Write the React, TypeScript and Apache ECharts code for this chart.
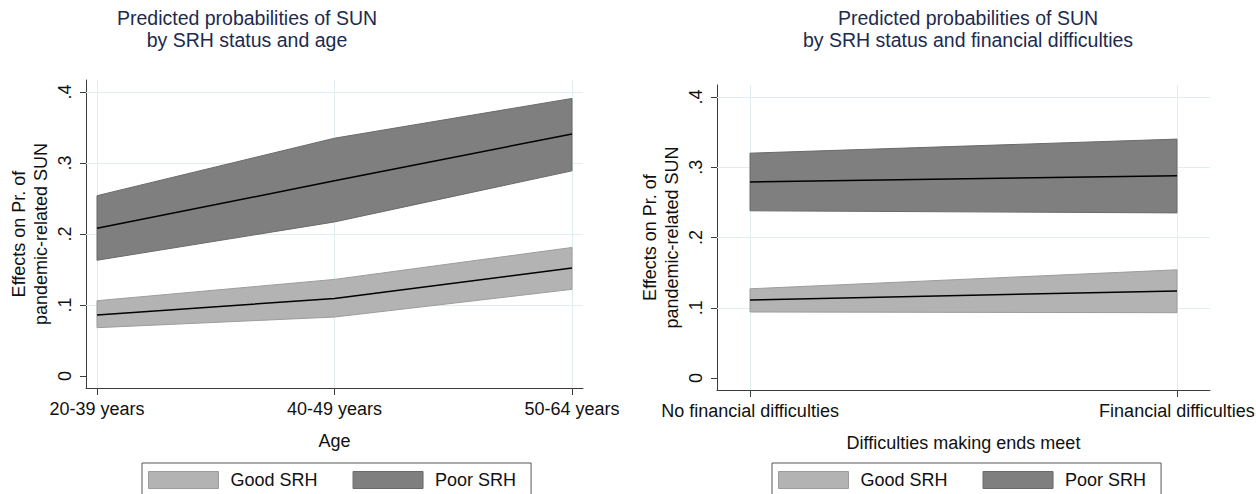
import React, { useEffect, useRef } from 'react';
import * as echarts from 'echarts';

// ---------- data ----------
const ageCategories = ['20-39 years', '40-49 years', '50-64 years'];
const goodAgeMean = [0.086, 0.109, 0.152];
const goodAgeLow = [0.068, 0.083, 0.122];
const goodAgeHigh = [0.106, 0.136, 0.181];
const poorAgeMean = [0.208, 0.275, 0.341];
const poorAgeLow = [0.163, 0.217, 0.289];
const poorAgeHigh = [0.254, 0.335, 0.391];

const finCategories = ['No financial difficulties', 'Financial difficulties'];
const goodFinMean = [0.111, 0.124];
const goodFinLow = [0.094, 0.093];
const goodFinHigh = [0.127, 0.154];
const poorFinMean = [0.279, 0.288];
const poorFinLow = [0.238, 0.235];
const poorFinHigh = [0.320, 0.340];

const yTickValues = [0, 0.1, 0.2, 0.3, 0.4];
const yTickLabels = ['0', '.1', '.2', '.3', '.4'];
const yGridValues = [0.1, 0.2, 0.3, 0.4];

const seriesNames = ['Good SRH', 'Poor SRH'];
const titles = [
  'Predicted probabilities of SUN\nby SRH status and age',
  'Predicted probabilities of SUN\nby SRH status and financial difficulties',
];
const xTitles = ['Age', 'Difficulties making ends meet'];
const yTitle = 'Effects on Pr. of\npandemic-related SUN';

// ---------- style ----------
const FONT = '"Liberation Sans", Arial, Helvetica, sans-serif';
const GOOD_FILL = '#b3b3b3';
const GOOD_EDGE = '#9c9c9c';
const POOR_FILL = '#7f7f7f';
const POOR_EDGE = '#6a6a6a';
const GRID_COLOR = '#e2edef';
const AXIS_COLOR = '#3c3c3c';
const TEXT_COLOR = '#111111';
const TITLE_COLOR = '#1d2b4f';

function bandSeries(name: string, idx: number, lows: number[], highs: number[], fill: string, edge: string) {
  return {
    type: 'custom',
    name,
    xAxisIndex: idx,
    yAxisIndex: idx,
    z: 2,
    silent: true,
    itemStyle: { color: fill },
    data: lows.map((v, i) => [i, v, highs[i]]),
    encode: { x: 0, y: [1, 2] },
    renderItem: (params: any, api: any) => {
      if (params.dataIndex !== 0) return null;
      const upper = highs.map((v, i) => api.coord([i, v]));
      const lower = lows.map((v, i) => api.coord([i, v])).reverse();
      return {
        type: 'polygon',
        shape: { points: upper.concat(lower) },
        style: { fill, stroke: edge, lineWidth: 1 },
      };
    },
  };
}

function meanSeries(name: string, idx: number, vals: number[], withGrid: number) {
  const s: any = {
    type: 'line',
    name,
    xAxisIndex: idx,
    yAxisIndex: idx,
    z: 3,
    silent: true,
    symbol: 'none',
    data: vals.map((v, i) => [i, v]),
    lineStyle: { color: '#000', width: 1.5 },
    itemStyle: { color: '#000' },
  };
  if (withGrid > 0) {
    s.markLine = {
      silent: true,
      z: 1,
      symbol: 'none',
      animation: false,
      label: { show: false },
      lineStyle: { color: GRID_COLOR, width: 1, type: 'solid' },
      data: [
        ...yGridValues.map((v) => ({ yAxis: v })),
        ...Array.from({ length: withGrid }, (_, i) => ({ xAxis: i })),
      ],
    };
  }
  return s;
}

function xAxisCfg(idx: number, cats: string[], min: number, max: number) {
  const ticks = cats.map((_, i) => i);
  return {
    type: 'value',
    gridIndex: idx,
    min,
    max,
    axisLine: { show: true, onZero: false, lineStyle: { color: AXIS_COLOR, width: 1 } },
    axisTick: { show: true, customValues: ticks, length: 7, lineStyle: { color: AXIS_COLOR } },
    axisLabel: {
      customValues: ticks,
      formatter: (v: number) => cats[Math.round(v)],
      fontSize: 18,
      color: TEXT_COLOR,
      fontFamily: FONT,
      margin: 12,
    },
    splitLine: { show: false },
    name: xTitles[idx],
    nameLocation: 'middle',
    nameGap: 44,
    nameTextStyle: { fontSize: 18, color: TEXT_COLOR, fontFamily: FONT },
  };
}

function yAxisCfg(idx: number) {
  return {
    type: 'value',
    gridIndex: idx,
    min: -0.017,
    max: 0.417,
    axisLine: { show: true, onZero: false, lineStyle: { color: AXIS_COLOR, width: 1 } },
    axisTick: { show: true, customValues: yTickValues, length: 6, lineStyle: { color: AXIS_COLOR } },
    axisLabel: {
      customValues: yTickValues,
      formatter: (v: number) => yTickLabels[Math.round(v * 10)],
      rotate: 90,
      fontSize: 18,
      color: TEXT_COLOR,
      fontFamily: FONT,
      margin: 12,
    },
    splitLine: { show: false },
    name: yTitle,
    nameLocation: 'middle',
    nameGap: 34,
    nameRotate: 90,
    nameTextStyle: { fontSize: 18, color: TEXT_COLOR, fontFamily: FONT, lineHeight: 22, align: 'center' },
  };
}

function legendCfg(left: number) {
  return {
    left,
    top: 463,
    orient: 'horizontal',
    icon: 'rect',
    itemWidth: 70,
    itemHeight: 17,
    itemGap: 35,
    padding: [8, 15, 8, 6],
    borderColor: '#555',
    borderWidth: 1,
    selectedMode: false,
    textStyle: { fontSize: 18, color: TEXT_COLOR, fontFamily: FONT, padding: [0, 0, 0, 7] },
    data: [
      { name: seriesNames[0], itemStyle: { color: GOOD_FILL, borderColor: GOOD_EDGE, borderWidth: 1 } },
      { name: seriesNames[1], itemStyle: { color: POOR_FILL, borderColor: POOR_EDGE, borderWidth: 1 } },
    ],
  };
}

function titleCfg(text: string, center: number) {
  return {
    text,
    left: center,
    top: 7,
    textAlign: 'center',
    padding: 0,
    textStyle: { fontSize: 19.5, fontWeight: 'normal', color: TITLE_COLOR, lineHeight: 22, fontFamily: FONT },
  };
}

export default function App() {
  const ref = useRef<HTMLDivElement>(null);
  useEffect(() => {
    if (!ref.current) return;
    const chart = echarts.init(ref.current, null, { renderer: 'svg' });
    const option: any = {
      animation: false,
      backgroundColor: '#ffffff',
      textStyle: { fontFamily: FONT },
      title: [titleCfg(titles[0], 247), titleCfg(titles[1], 968)],
      grid: [
        { left: 86, top: 80, width: 497, height: 308, outerBoundsMode: 'none', containLabel: false },
        { left: 717, top: 85, width: 493, height: 305, outerBoundsMode: 'none', containLabel: false },
      ],
      xAxis: [
        xAxisCfg(0, ageCategories, -0.0463, 2.0463),
        xAxisCfg(1, finCategories, -0.0773, 1.0773),
      ],
      yAxis: [yAxisCfg(0), yAxisCfg(1)],
      legend: [legendCfg(142), legendCfg(772)],
      series: [
        bandSeries(seriesNames[1], 0, poorAgeLow, poorAgeHigh, POOR_FILL, POOR_EDGE),
        bandSeries(seriesNames[0], 0, goodAgeLow, goodAgeHigh, GOOD_FILL, GOOD_EDGE),
        meanSeries('Poor SRH mean', 0, poorAgeMean, 0),
        meanSeries('Good SRH mean', 0, goodAgeMean, ageCategories.length),
        bandSeries(seriesNames[1], 1, poorFinLow, poorFinHigh, POOR_FILL, POOR_EDGE),
        bandSeries(seriesNames[0], 1, goodFinLow, goodFinHigh, GOOD_FILL, GOOD_EDGE),
        meanSeries('Poor SRH mean', 1, poorFinMean, 0),
        meanSeries('Good SRH mean', 1, goodFinMean, finCategories.length),
      ],
    };
    chart.setOption(option);
    return () => chart.dispose();
  }, []);
  return (
    <div
      ref={ref}
      style={{ position: 'fixed', left: 0, top: 0, width: 1256, height: 494, background: '#fff' }}
    />
  );
}
